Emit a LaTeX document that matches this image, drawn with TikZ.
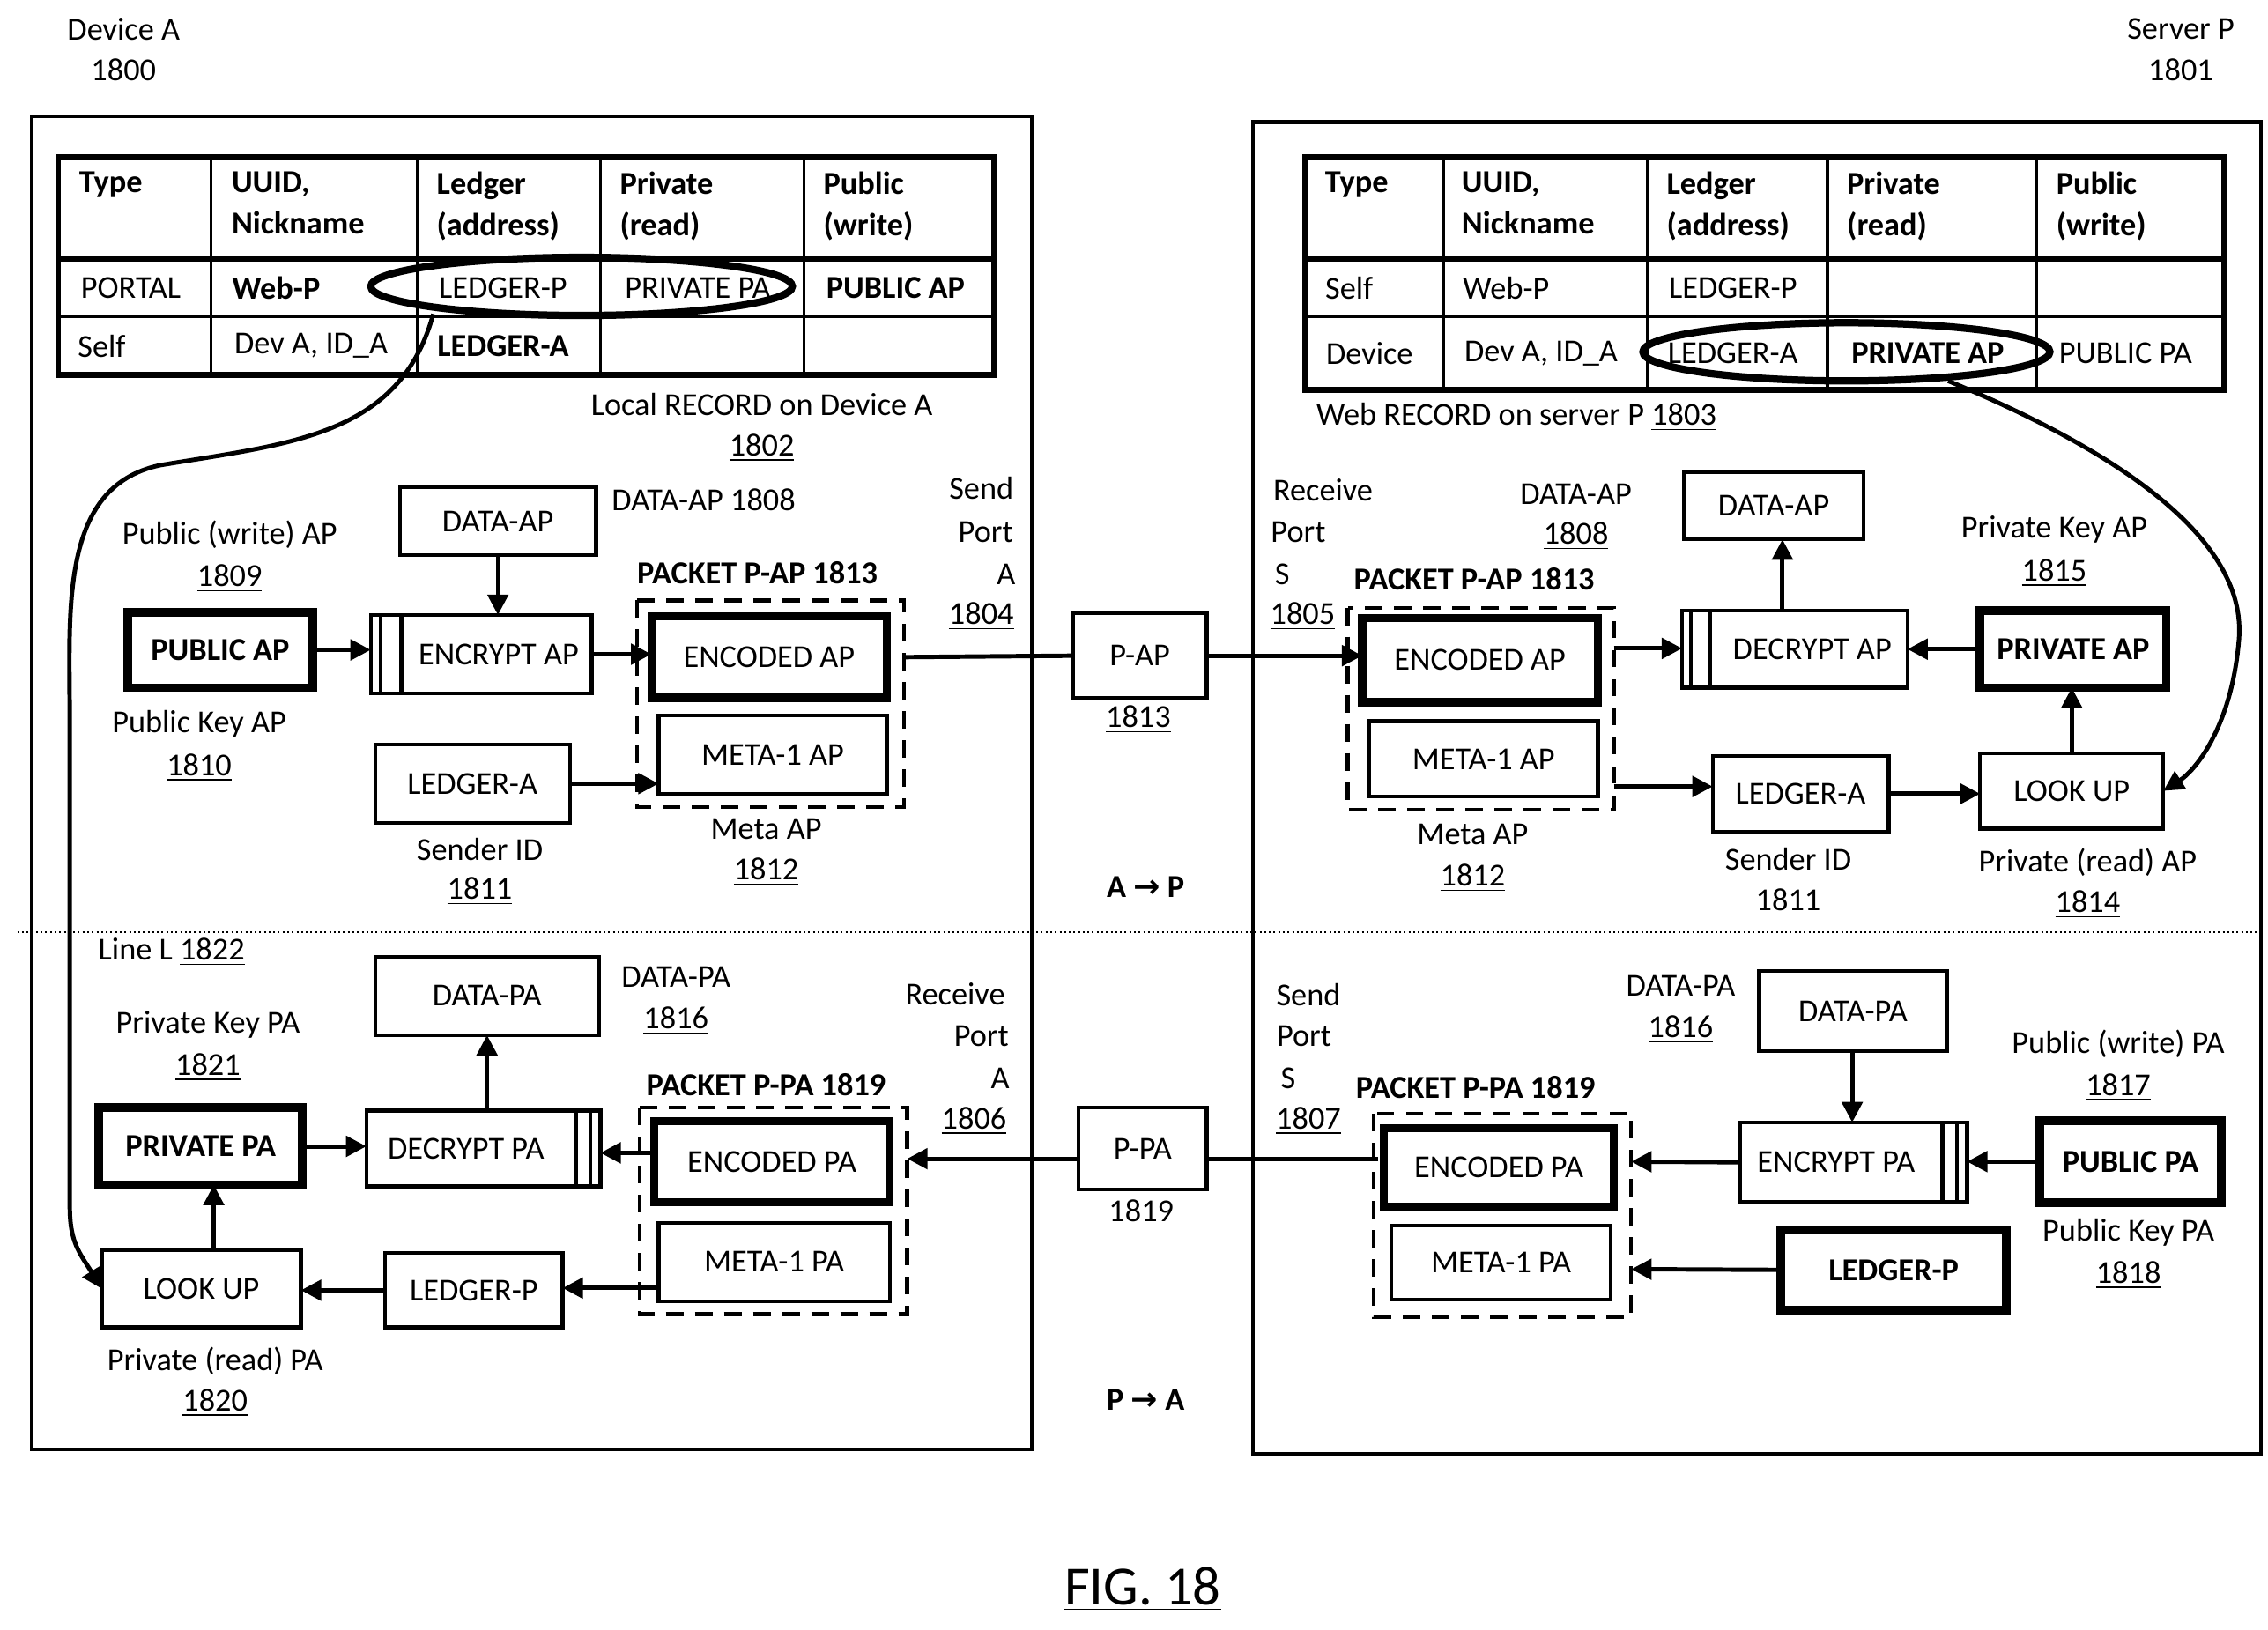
\documentclass[tikz,border=0pt]{standalone}
\usepackage{fontspec}
\setmainfont{Carlito}
\newfontfamily\dvs{DejaVu Sans}
\usetikzlibrary{arrows.meta}
\newcounter{lbc}
\newcommand\lb[3]{\stepcounter{lbc}\node[lbl] (lb\thelbc) at (#1,#2) {#3};}
\newcommand\bx[7][]{\node[box,#1,minimum width={(#5-#3)*0.5pt},minimum height={(#6-#4)*0.5pt}] (#2) at ({(#3+#5)/2},{(#4+#6)/2}) {#7};}
\newcommand\un[1]{\underline{#1}}
\begin{document}
\begin{tikzpicture}[x=0.5pt,y=-0.5pt,
  lbl/.style={inner sep=0pt,font=\fontsize{11}{13}\selectfont},
  box/.style={draw,line width=1.3pt,inner sep=0pt,outer sep=0pt,font=\fontsize{11}{13}\selectfont},
  thk/.style={line width=3pt},
  enc/.style={line width=2.8pt},
  pk/.style={draw,dashed,line width=1.3pt,dash pattern=on 6pt off 4pt},
  arr/.style={line width=1.5pt,-{Triangle[length=7pt,width=7pt]}},
  ln/.style={line width=1.5pt}]
\useasboundingbox (0,0) rectangle (1560,1121);
% headers
\lb{85}{20}{Device A}\lb{85}{50}{\un{1800}}
\lb{1500}{20}{Server P}\lb{1500}{50}{\un{1801}}
\draw[line width=1.3pt] (22,80) rectangle (710,997);
\draw[line width=1.3pt] (862,84) rectangle (1555,1000);
\draw[densely dotted,line width=0.6pt] (12,641) -- (1555,641);
% left table
\draw[line width=2pt] (40,108) rectangle (684,258);
\draw[line width=2pt] (40,178) -- (684,178);
\draw[line width=1pt] (40,218) -- (684,218);
\foreach \x in {145,287,413,553} \draw[line width=1pt] (\x,108) -- (\x,258);
\foreach \x/\t in {54/Type,159/{UUID,\\Nickname},300/{Ledger\\(address)},426/{Private\\(read)},566/{Public\\(write)}}
  {\stepcounter{lbc}\node[lbl,anchor=north west,align=left,font=\fontsize{11}{14}\selectfont\bfseries] (lb\thelbc) at (\x,118) {\t};}
\lb{90}{198}{PORTAL}\lb{190}{198}{\textbf{Web-P}}\lb{346}{198}{LEDGER-P}\lb{480}{198}{PRIVATE PA}\lb{616}{198}{\textbf{PUBLIC AP}}
\lb{70}{238}{Self}\lb{214}{238}{Dev A, ID\_A}\lb{346}{238}{\textbf{LEDGER-A}}
% right table
\draw[line width=2pt] (898,108) rectangle (1530,268);
\draw[line width=2pt] (898,178) -- (1530,178);
\draw[line width=1pt] (898,218) -- (1530,218);
\foreach \x in {993,1133,1257,1401} \draw[line width=1pt] (\x,108) -- (\x,268);
\foreach \x/\t in {911/Type,1005/{UUID,\\Nickname},1146/{Ledger\\(address)},1270/{Private\\(read)},1414/{Public\\(write)}}
  {\stepcounter{lbc}\node[lbl,anchor=north west,align=left,font=\fontsize{11}{14}\selectfont\bfseries] (lb\thelbc) at (\x,118) {\t};}
\lb{928}{198}{Self}\lb{1036}{198}{Web-P}\lb{1192}{198}{LEDGER-P}
\lb{942}{243}{Device}\lb{1060}{243}{Dev A, ID\_A}\lb{1192}{243}{LEDGER-A}\lb{1326}{243}{\textbf{PRIVATE AP}}\lb{1462}{243}{PUBLIC PA}
% ellipses
\draw[line width=2.5pt] (400,197) ellipse [x radius=145,y radius=20];
\draw[line width=2.5pt] (1270,242) ellipse [x radius=140,y radius=20];
\lb{524}{278}{Local RECORD on Device A}\lb{524}{308}{\un{1802}}
\lb{1043}{287}{Web RECORD on server P \un{1803}}
% ===== left upper
\bx{ldap}{275}{335}{410}{382}{DATA-AP}
\lb{484}{346}{DATA-AP \un{1808}}
\bx[thk,font=\fontsize{11}{13}\selectfont\bfseries]{lpubap}{88}{421}{215}{473}{PUBLIC AP}
\lb{158}{368}{Public (write) AP}\lb{158}{398}{\un{1809}}
\lb{137}{498}{Public Key AP}\lb{137}{528}{\un{1810}}
\bx{lencrypt}{255}{423}{407}{477}{\hspace*{12pt}ENCRYPT AP}
\draw[line width=1.3pt] (262,423) -- (262,477) (276,423) -- (276,477);
\draw[pk] (438,413) rectangle (622,555);
\bx[enc]{lencap}{448}{424}{610}{480}{ENCODED AP}
\bx{lmetaap}{453}{492}{610}{546}{META-1 AP}
\lb{521}{394}{\textbf{PACKET P-AP 1813}}
\bx{lledga}{258}{512}{392}{566}{LEDGER-A}
\lb{330}{584}{Sender ID}\lb{330}{613}{\un{1811}}
\lb{527}{570}{Meta AP}\lb{527}{600}{\un{1812}}
\lb{675}{336}{Send}\lb{678}{366}{Port}\lb{692}{395}{A}\lb{675}{424}{\un{1804}}
\draw[arr] (lpubap.east) -- (lpubap.east -| lencrypt.west);
\draw[arr] (ldap.south) -- (ldap.south |- lencrypt.north);
\draw[arr] (lencrypt.east) -- (lencrypt.east -| lencap.west);
\draw[arr] (lledga.east) -- (lledga.east -| lmetaap.west);
% middle
\bx{pap}{738}{422}{830}{480}{P-AP}
\lb{783}{495}{\un{1813}}
\lb{788}{610}{\textbf{A} {\dvs\bfseries →} \textbf{P}}
% ===== right upper
\lb{910}{337}{Receive}\lb{893}{366}{Port}\lb{882}{395}{S}\lb{896}{424}{\un{1805}}
\lb{1084}{340}{DATA-AP}\lb{1084}{369}{\un{1808}}
\lb{1014}{398}{\textbf{PACKET P-AP 1813}}
\draw[pk] (927,418) rectangle (1110,557);
\bx[enc]{rencap}{937}{425}{1099}{483}{ENCODED AP}
\bx{rmetaap}{942}{496}{1099}{548}{META-1 AP}
\bx{rdecrypt}{1157}{420}{1312}{473}{\hspace*{12pt}DECRYPT AP}
\draw[line width=1.3pt] (1163,420) -- (1163,473) (1176,420) -- (1176,473);
\bx{rdap}{1158}{325}{1282}{371}{DATA-AP}
\bx[thk,font=\fontsize{11}{13}\selectfont\bfseries]{rprivap}{1362}{420}{1490}{473}{PRIVATE AP}
\lb{1413}{364}{Private Key AP}\lb{1413}{394}{\un{1815}}
\bx{rlookup}{1362}{518}{1488}{570}{LOOK UP}
\bx{rledga}{1178}{520}{1299}{572}{LEDGER-A}
\lb{1013}{574}{Meta AP}\lb{1013}{604}{\un{1812}}
\lb{1230}{591}{Sender ID}\lb{1230}{621}{\un{1811}}
\lb{1436}{593}{Private (read) AP}\lb{1436}{622}{\un{1814}}
\draw[ln] (622,452) -- (pap.west);
\draw[arr] (pap.east) -- (pap.east -| rencap.west);
\draw[arr] (1110,446) -- (1110,446 -| rdecrypt.west);
\draw[arr] (1226,420) -- (1226,420 |- rdap.south);
\draw[arr] (rprivap.west) -- (rprivap.west -| rdecrypt.east);
\draw[arr] (rlookup.north) -- (rlookup.north |- rprivap.south);
\draw[ln] (1110,541) -- (1140,541);
\draw[arr] (1140,541) -- (1140,541 -| rledga.west);
\draw[arr] (rledga.east) -- (rledga.east -| rlookup.west);
% ===== left lower
\lb{118}{655}{Line L \un{1822}}
\bx{ldpa}{258}{658}{412}{712}{DATA-PA}
\lb{465}{672}{DATA-PA}\lb{465}{702}{\un{1816}}
\lb{143}{705}{Private Key PA}\lb{143}{734}{\un{1821}}
\bx[thk,font=\fontsize{11}{13}\selectfont\bfseries]{lprivpa}{68}{762}{208}{815}{PRIVATE PA}
\bx{ldecrypt}{252}{764}{413}{816}{DECRYPT PA\hspace*{12pt}}
\draw[line width=1.3pt] (396,764) -- (396,816) (406,764) -- (406,816);
\lb{527}{746}{\textbf{PACKET P-PA 1819}}
\draw[pk] (440,762) rectangle (624,904);
\bx[enc]{lencpa}{450}{771}{612}{827}{ENCODED PA}
\bx{lmetapa}{453}{841}{612}{895}{META-1 PA}
\bx{lledgp}{265}{862}{387}{913}{LEDGER-P}
\bx{llookup}{70}{860}{207}{913}{LOOK UP}
\lb{148}{936}{Private (read) PA}\lb{148}{965}{\un{1820}}
\lb{657}{684}{Receive}\lb{675}{713}{Port}\lb{688}{742}{A}\lb{670}{771}{\un{1806}}
\draw[arr] (335,764) -- (335,764 |- ldpa.south);
\draw[arr] (lprivpa.east) -- (lprivpa.east -| ldecrypt.west);
\draw[arr] (450,793) -- (413,793);
\draw[arr] (453,886) -- (lledgp.east |- 0,886);
\draw[arr] (lledgp.west) -- (lledgp.west -| llookup.east);
\draw[arr] (147,860) -- (147,815);
% middle lower
\bx{ppa}{742}{762}{830}{818}{P-PA}
\lb{785}{835}{\un{1819}}
\lb{788}{963}{\textbf{P} {\dvs\bfseries →} \textbf{A}}
\draw[ln] (948,797) -- (ppa.east |- 0,797);
\draw[arr] (ppa.west |- 0,797) -- (624,797);
% ===== right lower
\lb{900}{684}{Send}\lb{897}{713}{Port}\lb{886}{742}{S}\lb{900}{771}{\un{1807}}
\lb{1156}{678}{DATA-PA}\lb{1156}{708}{\un{1816}}
\bx{rdpa}{1210}{668}{1339}{723}{DATA-PA}
\bx{rencrypt}{1197}{772}{1353}{827}{ENCRYPT PA\hspace*{12pt}}
\draw[line width=1.3pt] (1336,772) -- (1336,827) (1346,772) -- (1346,827);
\bx[thk,font=\fontsize{11}{13}\selectfont\bfseries]{rpubpa}{1403}{771}{1528}{827}{PUBLIC PA}
\lb{1457}{718}{Public (write) PA}\lb{1457}{748}{\un{1817}}
\lb{1464}{848}{Public Key PA}\lb{1464}{877}{\un{1818}}
\lb{1015}{748}{\textbf{PACKET P-PA 1819}}
\draw[pk] (945,766) rectangle (1122,906);
\bx[enc]{rencpa}{952}{776}{1110}{830}{ENCODED PA}
\bx{rmetapa}{957}{843}{1108}{894}{META-1 PA}
\bx[thk,font=\fontsize{11}{13}\selectfont\bfseries]{rledgp}{1225}{846}{1380}{901}{LEDGER-P}
\draw[arr] (1274,723) -- (1274,772);
\draw[arr] (rpubpa.west) -- (rpubpa.west -| rencrypt.east);
\draw[arr] (rencrypt.west) -- (1122,799);
\draw[arr] (rledgp.west) -- (1122,873);
% curves
\draw[arr] (298,216) .. controls (275,300) and (200,305) .. (110,320) .. controls (40,335) and (48,420) .. (48,500) -- (48,830) .. controls (48,855) and (55,862) .. (llookup.west);
\draw[arr] (1340,262) .. controls (1480,320) and (1545,380) .. (1540,440) .. controls (1535,500) and (1510,530) .. (rlookup.east);
% figure
\node[inner sep=0pt,font=\fontsize{19}{22}\selectfont] (fig) at (786,1093) {\un{FIG. 18}};
\end{tikzpicture}
\end{document}
